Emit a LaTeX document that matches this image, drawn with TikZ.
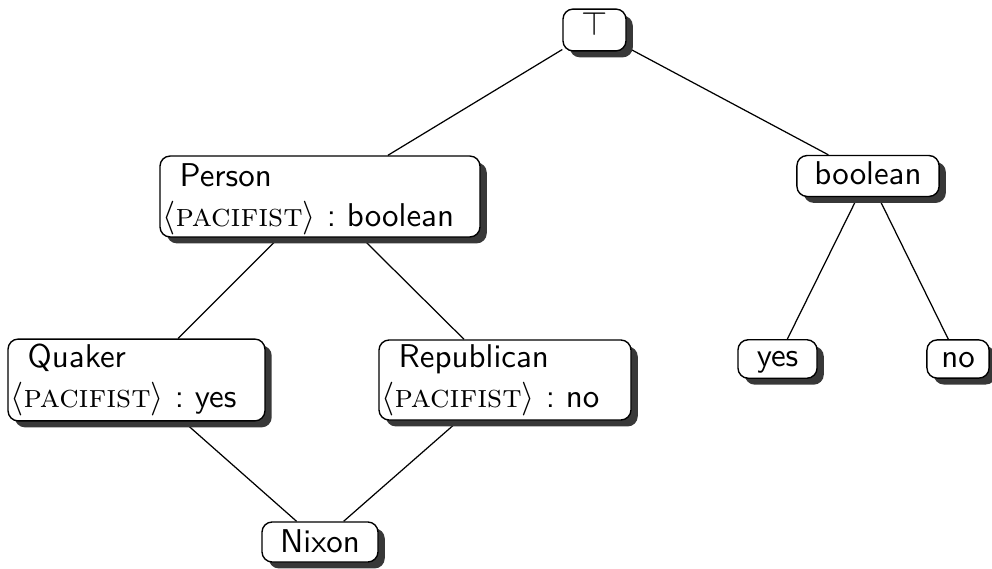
\documentclass[tikz,border=0pt]{standalone}
\usetikzlibrary{shadows,backgrounds}
\newcommand{\pacattr}{$\langle$\textsc{pacifist}$\rangle$}
\tikzset{
  frame/.style={draw, rounded corners=3.3pt, fill=white, line width=0.45pt,
    font=\sffamily\fontsize{10.7}{13}\selectfont\frenchspacing, inner sep=0pt,
    drop shadow={shadow xshift=2.2pt, shadow yshift=-2.1pt, fill=black!78, opacity=1}},
  wordbox/.style={frame, text height=7pt, text depth=#1},
  typebox/.style={frame, align=left, inner xsep=0.8pt},
  link/.style={line width=0.4pt}
}
\begin{document}
\begin{tikzpicture}[x=0.325pt, y=-0.325pt]
  \useasboundingbox (0,0) rectangle (992,569);

  % type hierarchy
  \node[wordbox=3.1pt, minimum width=20.5pt, minimum height=13.6pt] (top) at (594.5,30) {$\top$};
  \node[typebox, text width=102.4pt, minimum height=26.3pt] (person) at (320,196.5)
    {\hspace*{5.6pt}\rule{0pt}{9pt}Person\\ \pacattr\ :\ boolean};
  \node[wordbox=1.4pt, minimum width=46.2pt, minimum height=13.3pt] (bool) at (868,176) {boolean};
  \node[typebox, text width=81.9pt, minimum height=26.6pt] (quaker) at (136.5,380)
    {\hspace*{5.6pt}Quaker\\ \pacattr\ :\ yes};
  \node[typebox, text width=80.3pt, minimum height=26pt] (repub) at (505,380)
    {\hspace*{5.6pt}Republican\\ \pacattr\ :\ no};
  \node[wordbox=2pt, minimum width=25.7pt, minimum height=12.5pt] (yes) at (777.5,359) {yes};
  \node[wordbox=1.8pt, minimum width=20.2pt, minimum height=12.4pt] (no) at (958,359) {no};
  \node[wordbox=0.5pt, minimum width=37.7pt, minimum height=13pt] (nixon) at (320,542) {Nixon};

  % subtype links, kept beneath the boxes and their shadows
  \begin{pgfonlayer}{background}
    \draw[link] (top) -- (person);
    \draw[link] (top) -- (bool);
    \draw[link] (person) -- (quaker);
    \draw[link] (person) -- (repub);
    \draw[link] (bool) -- (yes);
    \draw[link] (bool) -- (no);
    \draw[link] (quaker) -- (nixon);
    \draw[link] (repub) -- (nixon);
  \end{pgfonlayer}
\end{tikzpicture}
\end{document}
